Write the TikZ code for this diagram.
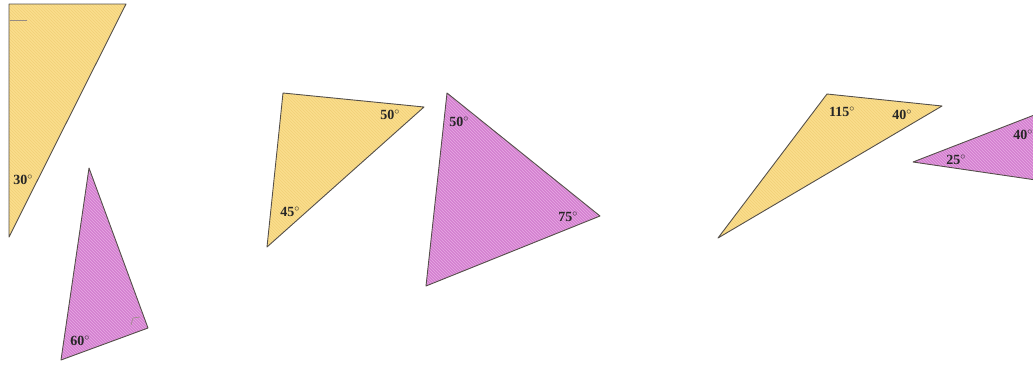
\documentclass[tikz,border=0pt]{standalone}
\usepackage{fontspec}
\setmainfont{Liberation Serif}
\usetikzlibrary{patterns}
\definecolor{tyellow}{RGB}{250,222,140}
\definecolor{tpurple}{RGB}{212,128,208}
\definecolor{hatchY}{RGB}{242,208,120}
\definecolor{hatchP}{RGB}{232,170,228}
\definecolor{edge}{RGB}{85,80,75}
\definecolor{markc}{RGB}{150,140,130}
\tikzset{
  ytri/.style={fill=tyellow},
  ptri/.style={fill=tpurple},
  phatch/.style={pattern=north west lines, pattern color=hatchP},
  yhatch/.style={pattern=north west lines, pattern color=hatchY},
  outline/.style={draw=edge, line width=0.9pt, line join=round},
  ang/.style={font=\fontsize{14}{16}\selectfont\bfseries, text=black!85, inner sep=0pt},
  ramark/.style={draw=markc, line width=0.6pt}
}
\begin{document}
\begin{tikzpicture}[x=1pt,y=-1pt]
\useasboundingbox (0,0) rectangle (1033,365);
\clip (0,0) rectangle (1033,365);
% triangle 1
\coordinate (a1) at (9,4);
\coordinate (b1) at (126,4);
\coordinate (c1) at (9,237);
\fill[ytri] (a1) -- (b1) -- (c1) -- cycle;
\fill[yhatch] (a1) -- (b1) -- (c1) -- cycle;
\draw[outline] (a1) -- (b1) -- (c1) -- cycle;
\coordinate (m1a) at (10,20);
\coordinate (m1b) at (27,20);
\draw[ramark] (m1a) -- (m1b);
\node[ang] (l30) at (23,180) {30$^\circ$};
% triangle 2
\coordinate (a2) at (89,168);
\coordinate (b2) at (148,328);
\coordinate (c2) at (61,360);
\fill[ptri] (a2) -- (b2) -- (c2) -- cycle;
\fill[phatch] (a2) -- (b2) -- (c2) -- cycle;
\draw[outline] (a2) -- (b2) -- (c2) -- cycle;
\coordinate (m2a) at (131,325);
\coordinate (m2b) at (133,318);
\coordinate (m2c) at (140,317);
\draw[ramark] (m2a) -- (m2b) -- (m2c);
\node[ang] (l60) at (80,341) {60$^\circ$};
% triangle 3
\coordinate (a3) at (283,93);
\coordinate (b3) at (424,107);
\coordinate (c3) at (267,247);
\fill[ytri] (a3) -- (b3) -- (c3) -- cycle;
\fill[yhatch] (a3) -- (b3) -- (c3) -- cycle;
\draw[outline] (a3) -- (b3) -- (c3) -- cycle;
\node[ang] (l50a) at (390,115) {50$^\circ$};
\node[ang] (l45) at (290,212) {45$^\circ$};
% triangle 4
\coordinate (a4) at (447,93);
\coordinate (b4) at (600,216);
\coordinate (c4) at (426,286);
\fill[ptri] (a4) -- (b4) -- (c4) -- cycle;
\fill[phatch] (a4) -- (b4) -- (c4) -- cycle;
\draw[outline] (a4) -- (b4) -- (c4) -- cycle;
\node[ang] (l50b) at (459,122) {50$^\circ$};
\node[ang] (l75) at (568,217) {75$^\circ$};
% triangle 5
\coordinate (a5) at (827,94);
\coordinate (b5) at (942,106);
\coordinate (c5) at (718,238);
\fill[ytri] (a5) -- (b5) -- (c5) -- cycle;
\fill[yhatch] (a5) -- (b5) -- (c5) -- cycle;
\draw[outline] (a5) -- (b5) -- (c5) -- cycle;
\node[ang] (l115) at (842,112) {115$^\circ$};
\node[ang] (l40a) at (902,115) {40$^\circ$};
% triangle 6
\coordinate (a6) at (913,162);
\coordinate (b6) at (1042,112);
\coordinate (c6) at (1036,180);
\fill[ptri] (a6) -- (b6) -- (c6) -- cycle;
\fill[phatch] (a6) -- (b6) -- (c6) -- cycle;
\draw[outline] (a6) -- (b6) -- (c6) -- cycle;
\node[ang] (l40b) at (1023,135) {40$^\circ$};
\node[ang] (l25) at (956,160) {25$^\circ$};
\end{tikzpicture}
\end{document}
